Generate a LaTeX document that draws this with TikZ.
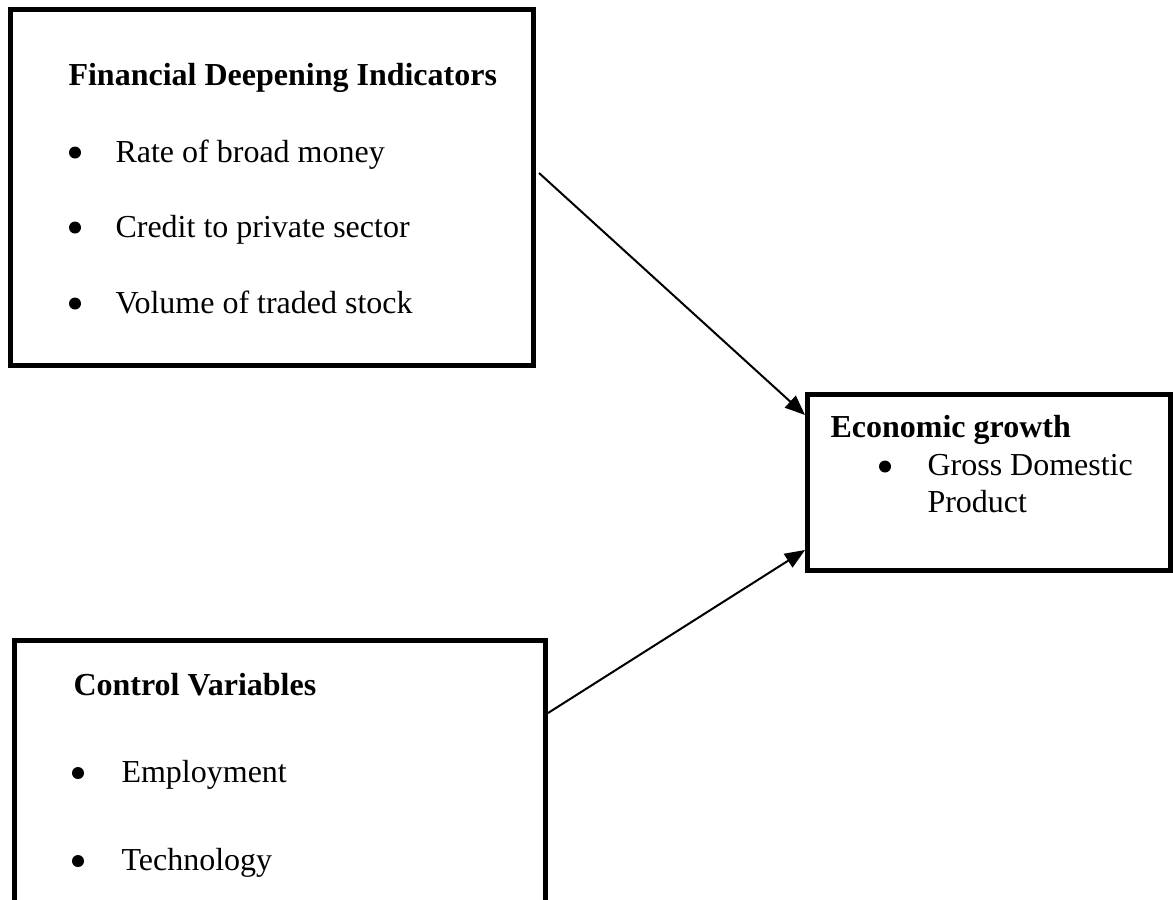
\documentclass[tikz,border=0pt]{standalone}
\usepackage{fontspec}
\setmainfont{Liberation Serif}
\usetikzlibrary{arrows.meta}

\begin{document}
\begin{tikzpicture}[x=0.375pt, y=-0.375pt,
  font=\fontsize{12pt}{14pt}\selectfont,
  frame/.style={draw=black, line width=1.875pt, inner sep=0pt, fill=white},
  head/.style={anchor=base west, inner sep=0pt, font=\fontsize{12pt}{14pt}\selectfont\bfseries},
  item/.style={anchor=base west, inner sep=0pt},
  dot/.style={circle, fill=black, inner sep=0pt, minimum size=4.5pt},
  link/.style={draw=black, line width=0.75pt, -{Triangle[length=7.5pt,width=6pt]}}]

% page area
\fill[white] (0,0) rectangle (1173,899);
\clip (0,0) rectangle (1173,899);

% boxes
\node[frame, minimum width=196.125pt, minimum height=133.5pt] (fin) at (272,187.5) {};
\node[frame, minimum width=136.125pt, minimum height=66pt] (growth) at (989,482.5) {};
\node[frame, minimum width=199.125pt, minimum height=119.8125pt] (ctrl) at (280,800.25) {};

% financial deepening indicators
\node[head] (finT) at (68,85) {Financial Deepening Indicators};
\node[dot] (finB1) at (75,152.5) {};
\node[item] (finI1) at (115,162) {Rate of broad money};
\node[dot] (finB2) at (75,227.5) {};
\node[item] (finI2) at (115,237) {Credit to private sector};
\node[dot] (finB3) at (75,303.5) {};
\node[item] (finI3) at (115,313) {Volume of traded stock};

% economic growth
\node[head] (growthT) at (830,437) {Economic growth};
\node[dot] (growthB1) at (885,466.5) {};
\node[item] (growthI1) at (927,475) {Gross Domestic};
\node[item] (growthI2) at (927,512) {Product};

% control variables
\node[head] (ctrlT) at (73,695) {Control Variables};
\node[dot] (ctrlB1) at (78,773) {};
\node[item] (ctrlI1) at (121,782) {Employment};
\node[dot] (ctrlB2) at (78,861) {};
\node[item] (ctrlI2) at (121,870) {Technology};

% connectors
\coordinate (s1) at (539,173);
\draw[link] (s1) -- (growth.west |- 0,415);
\draw[link] (ctrl.east |- 0,713) -- (growth.west |- 0,550);

\end{tikzpicture}
\end{document}
